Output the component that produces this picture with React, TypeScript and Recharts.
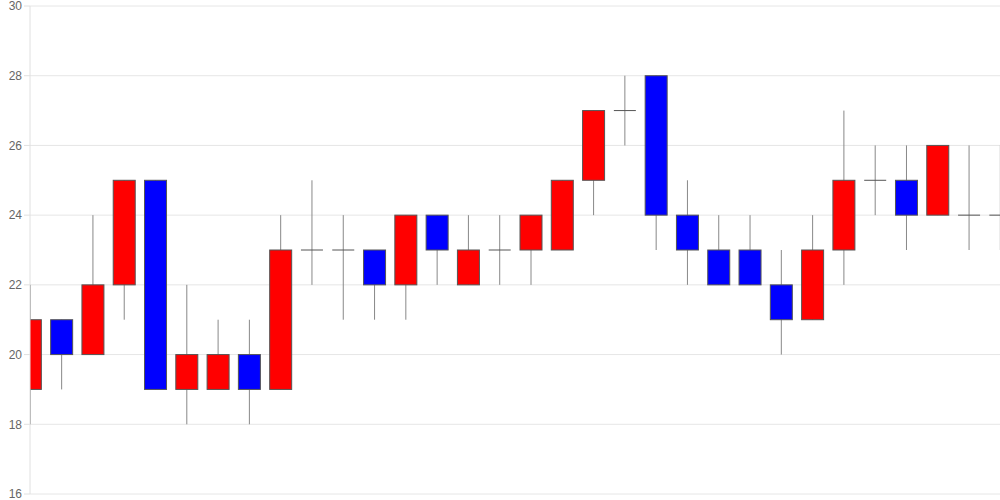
import { Bar, CartesianGrid, ComposedChart, XAxis, YAxis } from "recharts";

const opens = [19, 21, 20, 22, 25, 19, 19, 20, 19, 23, 23, 23, 22, 24, 22, 23, 23, 23, 25, 27, 28, 24, 23, 23, 22, 21, 23, 25, 25, 24, 24, 24];
const closes = [21, 20, 22, 25, 19, 20, 20, 19, 23, 23, 23, 22, 24, 23, 23, 23, 24, 25, 27, 27, 24, 23, 22, 22, 21, 23, 25, 25, 24, 26, 24, 24];
const highs = [22, 21, 24, 25, 25, 22, 21, 21, 24, 25, 24, 23, 24, 24, 24, 24, 24, 25, 27, 28, 28, 25, 24, 24, 23, 24, 27, 26, 26, 26, 26, 26];
const lows = [18, 19, 20, 21, 19, 18, 19, 18, 19, 22, 21, 21, 21, 22, 22, 22, 22, 23, 24, 26, 23, 22, 22, 22, 20, 21, 22, 24, 23, 24, 23, 23];
const yTicks = [16, 18, 20, 22, 24, 26, 28, 30];

const rows = opens.map((open, i) => ({
  idx: i,
  open,
  close: closes[i],
  high: highs[i],
  low: lows[i],
  range: [lows[i], highs[i]],
}));

const UP = "#ff0000";
const DOWN = "#0000ff";

function Candle(props: any) {
  const { x, y, width, height, payload } = props;
  const top = Math.min(y, y + height);
  const h = Math.abs(height);
  const { open, close, high, low } = payload;
  const per = high > low ? h / (high - low) : 0;
  const py = (v: number) => top + (high - v) * per;
  const cx = x + width / 2;
  const bodyTop = py(Math.max(open, close));
  const bodyBottom = py(Math.min(open, close));

  return (
    <g>
      <line x1={cx} x2={cx} y1={top} y2={top + h} stroke="#888" strokeWidth={1} />
      {open === close ? (
        <line x1={x} x2={x + width} y1={bodyTop} y2={bodyTop} stroke="#555" strokeWidth={1} />
      ) : (
        <rect
          x={x}
          y={bodyTop}
          width={width}
          height={bodyBottom - bodyTop}
          fill={close > open ? UP : DOWN}
          stroke="#555"
          strokeWidth={1}
        />
      )}
    </g>
  );
}

export default function App() {
  return (
    <div style={{ position: "absolute", left: 0, top: 0, fontFamily: "Arial, 'Liberation Sans', sans-serif" }}>
      <ComposedChart width={1000} height={500} data={rows} margin={{ top: 6, right: 0, bottom: 6, left: 0 }}>
        <CartesianGrid vertical={false} stroke="#e6e6e6" horizontalValues={yTicks} />
        <XAxis dataKey="idx" type="number" domain={[0, rows.length - 1]} hide allowDataOverflow />
        <YAxis
          domain={[16, 30]}
          ticks={yTicks}
          interval={0}
          width={30}
          axisLine={{ stroke: "#e0e0e0" }}
          tickLine={{ stroke: "#e0e0e0" }}
          tick={{ fill: "#666", fontSize: 12 }}
        />
        <Bar dataKey="range" barSize={22} shape={<Candle />} isAnimationActive={false} />
      </ComposedChart>
    </div>
  );
}
